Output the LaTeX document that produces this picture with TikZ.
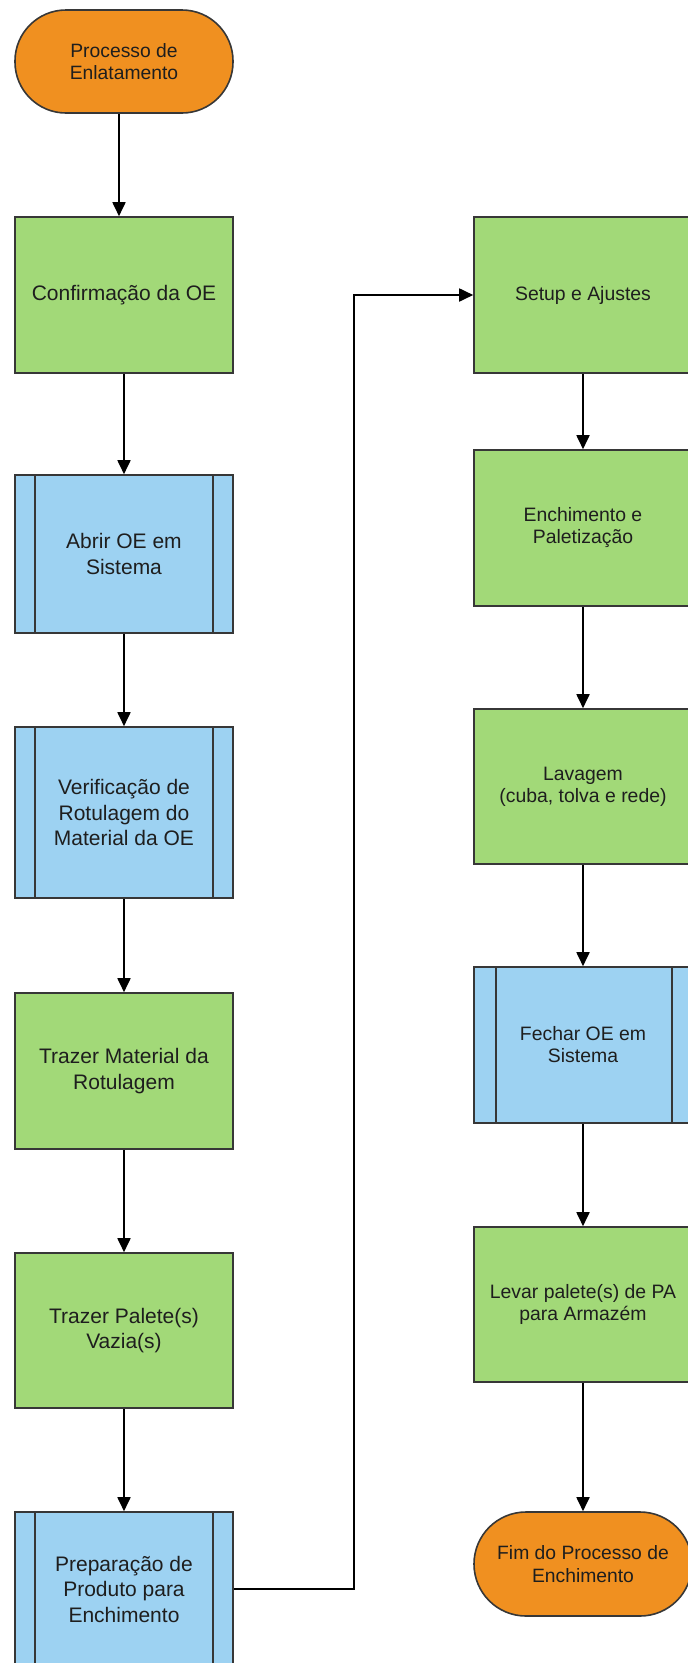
\documentclass[tikz,border=0pt]{standalone}
\usepackage{fontspec}
\setmainfont{Liberation Sans}
\usetikzlibrary{arrows.meta}
\definecolor{termorange}{RGB}{240,144,32}
\definecolor{procgreen}{RGB}{162,217,120}
\definecolor{subblue}{RGB}{157,210,242}
\definecolor{edgegray}{RGB}{55,55,55}
\definecolor{txt}{RGB}{30,30,30}
\tikzset{
  basebox/.style={draw=edgegray, line width=1.6pt, minimum width=218pt, inner sep=0pt,
    align=center, text=txt},
  terminal/.style={basebox, fill=termorange, rounded corners=51pt, minimum height=103pt},
  procbox/.style={basebox, fill=procgreen},
  subbox/.style={basebox, fill=subblue},
  bigtext/.style={font=\fontsize{21}{25.5}\selectfont},
  smalltext/.style={font=\fontsize{19.4}{22}\selectfont},
  arr/.style={draw=black, line width=1.8pt, -{Triangle[width=13pt,length=14pt]}},
  sideline/.style={draw=edgegray, line width=1.6pt}
}
\begin{document}
\begin{tikzpicture}[x=1pt,y=-1pt]
\useasboundingbox (0,0) rectangle (688,1663);
\clip (0,0) rectangle (688,1663);
\fill[white] (0,0) rectangle (688,1663);

% left column
\node[terminal, font=\fontsize{19.3}{21.7}\selectfont] (start) at (124,61.5) {Processo de\\Enlatamento};
\node[procbox, bigtext, minimum height=156pt] (conf) at (124,295) {Confirmação da OE};
\node[subbox, bigtext, minimum height=158pt] (abrir) at (124,554) {Abrir OE em\\Sistema};
\node[subbox, bigtext, minimum height=171pt] (verif) at (124,812.5) {Verificação de\\Rotulagem do\\Material da OE};
\node[procbox, bigtext, minimum height=156pt] (tmat) at (124,1071) {Trazer Material da\\Rotulagem};
\node[procbox, bigtext, minimum height=155pt] (tpal) at (124,1330.5) {Trazer Palete(s)\\Vazia(s)};
\node[subbox, bigtext, minimum height=154pt] (prep) at (124,1589) {Preparação de\\Produto para\\Enchimento};

% right column
\node[procbox, smalltext, minimum height=156pt] (setup) at (583,295) {Setup e Ajustes};
\node[procbox, smalltext, minimum height=156pt] (ench) at (583,528) {Enchimento e\\Paletização};
\node[procbox, smalltext, minimum height=155pt] (lav) at (583,786.5) {Lavagem\\(cuba, tolva e rede)};
\node[subbox, smalltext, minimum height=156pt] (fech) at (583,1045) {Fechar OE em\\Sistema};
\node[procbox, smalltext, minimum height=155pt] (levar) at (583,1304.5) {Levar palete(s) de PA\\para Armazém};
\node[terminal, font=\fontsize{19.3}{22.6}\selectfont, minimum height=104pt, rounded corners=52pt] (fim) at (583,1564) {Fim do Processo de\\Enchimento};

% side lines of predefined processes
\foreach \n in {abrir,verif,prep}{
  \draw[sideline] ([xshift=21pt]\n.north west) -- ([xshift=21pt]\n.south west);
  \draw[sideline] ([xshift=-21pt]\n.north east) -- ([xshift=-21pt]\n.south east);
}
\draw[sideline] ([xshift=23pt]fech.north west) -- ([xshift=23pt]fech.south west);
\draw[sideline] ([xshift=-21pt]fech.north east) -- ([xshift=-21pt]fech.south east);

% connectors
\draw[arr] ([xshift=-5pt]start.south) -- ([xshift=-5pt]conf.north);
\draw[arr] (conf) -- (abrir);
\draw[arr] (abrir) -- (verif);
\draw[arr] (verif) -- (tmat);
\draw[arr] (tmat) -- (tpal);
\draw[arr] (tpal) -- (prep);
\coordinate (turn) at (354,1589);
\draw[arr] (prep.east) -- (turn) |- (setup.west);
\draw[arr] (setup) -- (ench);
\draw[arr] (ench) -- (lav);
\draw[arr] (lav) -- (fech);
\draw[arr] (fech) -- (levar);
\draw[arr] (levar) -- (fim);
\end{tikzpicture}
\end{document}
